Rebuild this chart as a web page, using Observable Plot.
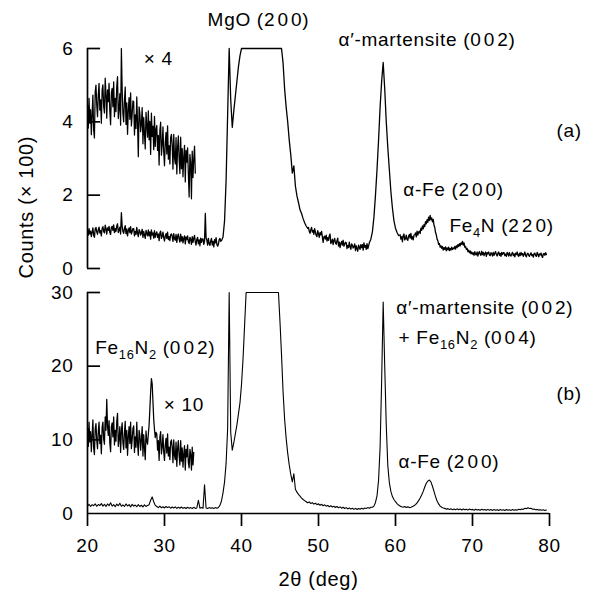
<!DOCTYPE html>
<html>
<head>
<meta charset="utf-8">
<script src="https://cdn.jsdelivr.net/npm/d3@7"></script>
<script src="https://cdn.jsdelivr.net/npm/@observablehq/plot@0.6"></script>
<style>
  body { margin: 0; background: #fff; }
  #chart { width: 612px; height: 597px; position: relative; }
  #chart svg { display: block; }
</style>
</head>
<body>
<div id="chart"></div>
<script>
// ---------- data (2θ in degrees, counts ×100) ----------
const xTicks = [20, 30, 40, 50, 60, 70, 80];
const aTicks = [0, 2, 4, 6];
const bTicks = [0, 10, 20, 30];

// Each series is a list of [start 2θ, step, values read at that step]
// (a) main pattern
const aMain = [
  [20.0, 0.1, [1.05,0.91,1.09,0.94,1.02,0.87,0.99,1.11,0.90,0.85, 1.08,1.12,1.00,0.93,1.06,1.13,0.97,1.03,0.89,1.09,
               1.14,1.01,0.97,1.18,1.08,0.94,1.11,1.04,1.15,0.98, 0.93,1.12,1.15,1.04,1.19,0.98,1.09,1.01,1.16,1.22,
               0.98,1.04,1.13,0.94,1.52,1.16,1.01,0.96,1.09,1.17, 0.95,1.08,0.89,1.03,1.11,0.98,1.14,0.94,1.01,1.09,
               1.09,0.89,1.01,0.93,1.12,0.96,0.87,1.06,1.02,0.91, 0.97,1.07,0.85,1.01,0.91,0.82,1.04,0.96,0.89,1.05,
               0.89,1.00,0.80,1.05,0.91,0.97,0.83,1.03,0.85,0.95, 1.00,0.85,0.94,0.76,0.97,1.02,0.82,0.88,0.99,0.84,
               0.75,0.89,0.95,0.82,0.99,0.79,0.87,0.76,0.92,0.94, 0.88,0.74,0.95,0.81,0.77,0.93,0.71,0.87,0.94,0.80,
               0.72,0.94,0.75,0.87,0.70,0.82,0.89,0.67,0.86,0.79, 0.89,0.73,0.68,0.85,0.80,0.66,0.87,0.71,0.82,0.90,
               0.72,0.64,0.80,0.85,0.67,0.78,0.62,0.83,0.71,0.81, 0.81,0.66,0.74,1.50,0.84,0.77,0.64,0.82,0.68,0.63,
               0.75,0.82,0.64,0.74,0.59,0.79,0.70,0.84,0.66,0.61, 0.66,0.79,0.82,0.74]],
  [37.4, 0.2, [0.76,0.86,1.3,2.4,4.2,6,4.6,3.85,4.3,4.7,5.1,5.5,5.8,6]],
  [45.2, 0.2, [6,5.6,4.9,4.4,4.0,3.5,3.1,2.6,2.8,2.25,1.98,1.8,1.6,1.5,1.36,1.25,1.16]],
  [48.6, 0.1, [1.09,1.12,1.01,0.96,1.06,1.12,0.99,1.04,0.93,1.09, 1.00,0.90,0.87,1.03,0.95,0.85,0.98,0.92,1.01,0.87,
               0.71,0.86,0.88,0.80,0.91,0.75,0.84,0.77,0.89,0.94, 0.68,0.72,0.80,0.65,0.77,0.82,0.70,0.66,0.76,0.83,
               0.61,0.72,0.57,0.68,0.74,0.64,0.77,0.61,0.66,0.72, 0.70,0.54,0.63,0.57,0.72,0.59,0.52,0.67,0.64,0.56,
               0.59,0.67,0.49,0.62,0.54,0.47,0.64,0.58,0.52,0.65, 0.57,0.65,0.50,0.70,0.58,0.63,0.52,0.68,0.54,0.61, 0.70]],
  [56.8, 0.2, [0.8,1.0,1.4,2.0,2.7,3.5,4.4,5.1,5.62,4.9,4.0,3.3,2.7,2.1,1.65,1.3,1.1,0.98,0.9]],
  [60.6, 0.1, [0.92,0.80,0.87,0.73,0.90,0.94,0.78,0.82,0.91,0.79, 0.77,0.88,0.93,0.83,0.96,0.80,0.87,0.78,0.91,0.92,
               0.97,0.86,1.02,0.91,0.99]],
  [63.1, 0.1, [1.02,0.95,1.10,1.04,1.16,1.08,1.20,1.14,1.28,1.22, 1.33,1.26,1.40,1.31,1.45,1.33,1.38,1.27,1.34,1.18,
               1.12,0.98,0.92,0.80,0.76,0.66,0.68,0.58,0.62,0.55, 0.60,0.50,0.57,0.52,0.59,0.48,0.56,0.51,0.58,0.49,
               0.55,0.50,0.58,0.52,0.56]],
  [67.6, 0.1, [0.54,0.60,0.53,0.62,0.57,0.65,0.60,0.68,0.62,0.70, 0.66,0.74,0.64,0.70,0.58,0.60,0.52,0.55,0.46,0.50,
               0.43,0.48,0.40,0.45,0.39]],
  [70.1, 0.1, [0.43,0.36,0.46,0.39,0.37,0.45,0.34,0.42,0.46,0.39, 0.36,0.47,0.38,0.44,0.35,0.41,0.45,0.33,0.43,0.40,
               0.45,0.37,0.35,0.43,0.41,0.34,0.44,0.36,0.42,0.46, 0.38,0.34,0.42,0.45,0.36,0.41,0.33,0.44,0.38,0.43,
               0.43,0.35,0.39,0.33,0.44,0.41,0.34,0.43,0.36,0.34, 0.40,0.44,0.35,0.40,0.32,0.42,0.38,0.45,0.36,0.33,
               0.42,0.35,0.44,0.37,0.41,0.33,0.39,0.45,0.35,0.32, 0.40,0.42,0.36,0.33,0.39,0.43,0.35,0.38,0.31,0.41,
               0.42,0.35,0.33,0.44,0.39,0.32,0.40,0.37,0.42,0.34, 0.30,0.40,0.41,0.36,0.43,0.38]]
];

// (a) low-angle part magnified ×4
const aInset = [
  [20.0, 0.1, [4.46,3.83,4.64,3.96,4.33,3.65,4.19,4.73,3.78,3.56, 4.82,5.00,4.46,4.14,4.73,5.05,4.32,4.60,3.96,4.87,
               5.01,4.42,4.24,5.19,4.74,4.10,4.87,4.55,5.05,4.28, 3.92,4.78,4.91,4.41,5.09,4.14,4.64,4.28,4.96,5.23,
               4.09,4.36,4.77,3.91,6.0,4.90,4.22,4.00,4.59,4.95, 3.93,4.52,3.66,4.30,4.66,4.07,4.79,3.89,4.20,4.57,
               4.55,3.64,4.19,3.82,4.68,3.96,3.05,4.41,4.23,3.73, 3.94,4.39,3.40,4.12,3.67,3.26,4.26,3.90,3.58,4.30,
               3.51,4.01,3.11,4.24,3.60,3.88,3.24,4.15,3.33,3.79, 3.90,3.22,3.63,2.82,3.77,3.99,3.09,3.36,3.86,3.18,
               2.80,3.44,3.71,3.12,3.89,2.98,3.35,2.85,3.57,3.66, 3.35,2.71,3.66,3.03,2.85,3.57,2.58,3.30,3.62,2.98,
               2.59,3.58,2.72,3.27,2.50,3.04,3.36,2.36,3.22,2.90, 3.29,2.57,1.95,3.11,2.89,1.90,3.20,2.48,2.98,3.34, 2.6]]
];

// (b) main pattern
const bMain = [
  [20.0, 0.2, [1.0,1.25,0.95,1.2,1.05,1.3,0.98,1.22,1.08,1.35, 1.0,1.25,0.95,1.3,1.05,1.45,1.0,1.2,0.92,1.28,
               1.05,1.38,0.98,1.18,0.95,1.3,1.02,1.2,0.9,1.25, 1.0,1.15,0.92,1.2,0.95,1.12,0.9,1.18,0.95,1.1]],
  [28.0, 0.2, [1.2,1.8,2.25,1.6,1.1, 0.95,0.8,1.0,0.78,0.92,0.75,0.95,0.8,0.9,0.72,
               0.88,0.75,0.9,0.7,0.85,0.72,0.88,0.7,0.82,0.68, 0.85,0.7,0.8,0.68,0.84,0.7,
               0.75,1.8,0.72,0.8,0.7,3.9,0.75,0.68,0.8,0.7,0.78,0.68,0.8,0.72,0.82]],
  [37.2, 0.2, [1.1,1.7,2.8,4.3,6.8,11.5,30,11,8.6,9.6,10.8,12.0,13.5,15.0,17.5,21,25.5,30]],
  [44.8, 0.2, [30,26,21.5,16.5,12.8,10.2,8.2,6.6,5.3,4.3,5.4,3.3,2.9,2.6,2.35,2.1,1.9,1.75,1.6]],
  [48.6, 0.2, [1.45,1.58,1.35,1.48,1.28,1.4,1.2,1.32,1.12,1.25, 1.05,1.18,1.0,1.1,0.92,1.05,0.88,0.98,0.82,0.95,
               0.78,0.9,0.72,0.85,0.68,0.8,0.62,0.76,0.6,0.72, 0.56,0.7,0.55,0.68,0.58,0.72,0.6,0.75,0.68,0.8,
               0.72,0.85]],
  [57.0, 0.2, [0.85,1.0,1.5,2.4,4.5,9.0,18,28.7,20,12,6.5,4.2,3.0,2.3,1.9,1.6,1.35,1.15,1.0,0.92]],
  [61.0, 0.2, [0.85,0.95,0.82,0.9,0.8]],
  [62.0, 0.2, [0.85,0.95,1.05,1.2,1.45,1.75,2.1,2.5,3.0,3.6,4.1,4.4,4.55,4.3,3.7,3.0,2.3,1.7,1.3,1.0,0.85,0.75]],
  [66.4, 0.2, [0.7,0.58,0.66,0.55,0.64,0.52,0.62,0.5,0.63,0.52, 0.6,0.48,0.62,0.5,0.58,0.46,0.6,0.5,0.56,0.45,
               0.58,0.47,0.55,0.44,0.57,0.46,0.54,0.43,0.56,0.45, 0.53,0.42,0.55,0.44,0.52,0.42,0.54,0.45,0.5,0.41,
               0.53,0.43,0.5,0.42,0.55,0.44,0.52,0.46,0.58,0.5, 0.62,0.55,0.72,0.65,0.78,0.68,0.7,0.58,0.6,0.5,
               0.55,0.46,0.52,0.44,0.5,0.42,0.48]]
];

// (b) low-angle part magnified ×10
const bInset = [
  [20.0, 0.1, [11.6,9.1,12.4,9.7,11.1,8.4,10.6,12.7,8.9,8.0, 11.5,12.2,10.0,8.8,11.1,12.4,9.5,10.6,8.1,11.7,
               12.4,10.1,9.4,13.1,11.3,15.5,11.9,10.6,12.6,9.5, 8.4,11.8,12.3,10.4,13.1,9.3,11.3,9.8,12.5,13.6,
               9.1,10.1,11.8,8.3,11.2,12.3,9.6,8.7,11.0,12.5, 8.9,11.3,7.9,10.4,11.8,9.5,12.4,8.8,10.0,11.5,
               11.9,8.3,10.4,9.0,12.4,9.5,7.9,11.3,10.6,8.6, 10.0,11.8,7.8,10.7,8.9,7.3,11.2,9.8,
               9.4,10.8,12.0,14.2,16.5,18.3,17.6,15.2,12.8,11.4,10.3,11.0,
               10.8,8.6,9.9,7.2,10.4,11.1,8.1,9.0,10.7,8.4, 7.2,9.3,10.2,8.2,10.8,7.8,9.0,7.3,9.7,10.0,
               9.0,6.9,10.0,7.9,7.3,9.7,6.4,8.8,9.9,7.8, 6.6,9.9,7.1,8.9,6.3,8.1,9.2,5.9,8.7,7.7,
               9.3,6.9,6.2,8.7,8.0,5.9,9.0,6.6,8.3]]
];

// annotations (text, 2θ of left edge, counts level)
const aLabels = [
  {text: "MgO (2\u200a0\u200a0)", x: 35.6, y: 6.78},
  {text: "\u03b1\u2032-martensite (0\u200a0\u200a2)", x: 52.6, y: 6.23},
  {text: "\u00d7 4", x: 27.3, y: 5.72},
  {text: "(a)", x: 80.9, y: 3.76},
  {text: "\u03b1-Fe (2\u200a0\u200a0)", x: 61.0, y: 2.13},
  {text: "Fe_{4}N (2\u200a2\u200a0)", x: 67.0, y: 1.15}
];
const bLabels = [
  {text: "\u03b1\u2032-martensite (0\u200a0\u200a2)", x: 60.1, y: 27.9},
  {text: "+ Fe_{16}N_{2} (0\u200a0\u200a4)", x: 60.4, y: 23.9},
  {text: "(b)", x: 80.9, y: 16.2},
  {text: "\u03b1-Fe (2\u200a0\u200a0)", x: 60.4, y: 6.98},
  {text: "Fe_{16}N_{2} (0\u200a0\u200a2)", x: 21.0, y: 22.5},
  {text: "\u00d7 10", x: 29.9, y: 14.8}
];
const yTitle = ["Counts (\u00d7 100)"];
const xTitle = ["2\u03b8 (deg)"];

// ---------- helpers ----------
function expand(segs) {
  return segs.flatMap(([x0, step, vals]) => vals.map((y, i) => ({x: +(x0 + i * step).toFixed(2), y})));
}
function applySubscripts(svg) {
  d3.select(svg).selectAll("text").each(function () {
    const t = this.textContent;
    if (!t.includes("_{")) return;
    const parts = t.split(/(_\{[^}]*\})/).filter(p => p.length);
    this.textContent = "";
    const sel = d3.select(this);
    let prevSub = false;
    for (const p of parts) {
      if (p.startsWith("_{")) {
        sel.append("tspan").attr("font-size", "0.68em").attr("dy", prevSub ? null : "5").text(p.slice(2, -1));
        prevSub = true;
      } else {
        const ts = sel.append("tspan").text(p);
        if (prevSub) ts.attr("dy", "-5");
        prevSub = false;
      }
    }
  });
}

const FONT = "'Liberation Sans', Arial, Helvetica, sans-serif";
const FS = 19;
const TICK_DEG = 1.7;   // inward tick length expressed in 2θ units
const AXIS_W = 1.7;
const baseStyle = {fontFamily: FONT, fontSize: FS + "px", letterSpacing: "0.7px",
                   background: "transparent", overflow: "visible", color: "black"};

// ---------- panel (a) ----------
const plotA = Plot.plot({
  width: 612, height: 275,
  marginLeft: 87, marginRight: 63, marginTop: 48, marginBottom: 7,
  x: {domain: [20, 80], axis: null, label: null},
  y: {domain: [0, 6], label: null},
  style: baseStyle,
  marks: [
    Plot.ruleX([20], {y1: 0, y2: 6, stroke: "black", strokeWidth: AXIS_W}),
    Plot.ruleY(aTicks, {x1: 20, x2: 20 + TICK_DEG, stroke: "black", strokeWidth: AXIS_W}),
    Plot.axisY(aTicks, {tickSize: 0, tickPadding: 14, fontSize: FS, label: null}),
    Plot.line(expand(aMain), {x: "x", y: "y", stroke: "black", strokeWidth: 1.3}),
    Plot.line(expand(aInset), {x: "x", y: "y", stroke: "black", strokeWidth: 1.25}),
    Plot.text(aLabels, {x: "x", y: "y", text: "text", textAnchor: "start", lineAnchor: "middle", fontSize: FS, fill: "black"})
  ]
});

// ---------- panel (b) ----------
const plotB = Plot.plot({
  width: 612, height: 322,
  marginLeft: 87, marginRight: 63, marginTop: 17, marginBottom: 84,
  x: {domain: [20, 80], label: null},
  y: {domain: [0, 30], label: null},
  style: baseStyle,
  marks: [
    Plot.ruleX([20], {y1: 0, y2: 30, stroke: "black", strokeWidth: AXIS_W}),
    Plot.ruleY([0], {stroke: "black", strokeWidth: AXIS_W}),
    Plot.ruleY(bTicks.filter(d => d > 0), {x1: 20, x2: 20 + TICK_DEG, stroke: "black", strokeWidth: AXIS_W}),
    Plot.axisY(bTicks, {tickSize: 0, tickPadding: 14, fontSize: FS, label: null}),
    Plot.axisX(xTicks, {tickSize: 13, tickPadding: 12, strokeWidth: AXIS_W, fontSize: FS, label: null}),
    Plot.line(expand(bMain), {x: "x", y: "y", stroke: "black", strokeWidth: 1.1}),
    Plot.line(expand(bInset), {x: "x", y: "y", stroke: "black", strokeWidth: 1.25}),
    Plot.text(bLabels, {x: "x", y: "y", text: "text", textAnchor: "start", lineAnchor: "middle", fontSize: FS, fill: "black"}),
    Plot.text(yTitle, {text: d => d, frameAnchor: "top-left", rotate: -90, dx: -69, dy: -14, fontSize: FS + 1, fill: "black"}),
    Plot.text(xTitle, {text: d => d, frameAnchor: "bottom", dy: 72, fontSize: FS + 1, fill: "black"})
  ]
});

applySubscripts(plotA);
applySubscripts(plotB);
const chart = document.getElementById("chart");
chart.appendChild(plotA);
chart.appendChild(plotB);
</script>
</body>
</html>
